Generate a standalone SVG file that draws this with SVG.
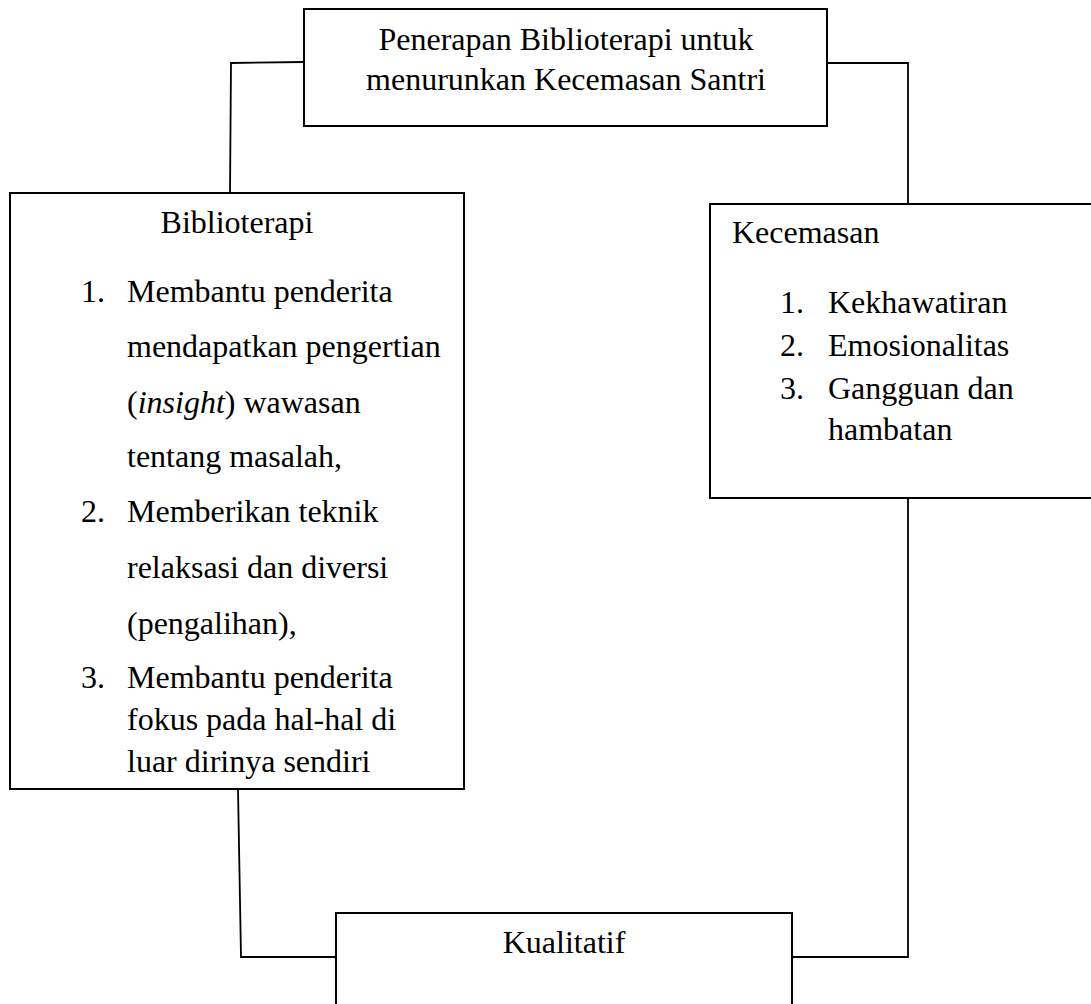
<svg xmlns="http://www.w3.org/2000/svg" width="1091" height="1004" viewBox="0 0 1091 1004">
<style>
.box{fill:#fff;stroke:#000;stroke-width:2}
.conn{fill:none;stroke:#000;stroke-width:1.8}
text{font-family:"Liberation Serif","Times New Roman",serif;font-size:32px;fill:#000}
.c{text-anchor:middle}
</style>
<rect width="1091" height="1004" fill="#fff"/>
<g id="connectors">
<polyline class="conn" points="304,62 231,63 230,193"/>
<polyline class="conn" points="827,63 908,63 908,204"/>
<polyline class="conn" points="238,789 241,957 336,957"/>
<polyline class="conn" points="792,957 908,957 908,498"/>
</g>
<g id="node-top">
<rect class="box" x="304" y="9" width="523" height="117"/>
<text class="c" x="566" y="50">Penerapan Biblioterapi untuk</text>
<text class="c" x="566" y="90">menurunkan Kecemasan Santri</text>
</g>
<g id="node-biblioterapi">
<rect class="box" x="10" y="193" width="454" height="596"/>
<text class="c" x="237" y="233">Biblioterapi</text>
<text x="81" y="302">1.</text>
<text x="127" y="302">Membantu penderita</text>
<text x="127" y="357">mendapatkan pengertian</text>
<text x="127" y="413">(<tspan font-style="italic">insight</tspan>) wawasan</text>
<text x="127" y="467">tentang masalah,</text>
<text x="81" y="522">2.</text>
<text x="127" y="522">Memberikan teknik</text>
<text x="127" y="578">relaksasi dan diversi</text>
<text x="127" y="634">(pengalihan),</text>
<text x="81" y="688">3.</text>
<text x="127" y="688">Membantu penderita</text>
<text x="127" y="730">fokus pada hal-hal di</text>
<text x="127" y="772">luar dirinya sendiri</text>
</g>
<g id="node-kecemasan">
<rect class="box" x="710" y="204" width="400" height="294"/>
<text x="732" y="243">Kecemasan</text>
<text x="780" y="313">1.</text>
<text x="828" y="313">Kekhawatiran</text>
<text x="780" y="356">2.</text>
<text x="828" y="356">Emosionalitas</text>
<text x="780" y="399">3.</text>
<text x="828" y="399">Gangguan dan</text>
<text x="828" y="440">hambatan</text>
</g>
<g id="node-kualitatif">
<rect class="box" x="336" y="913" width="456" height="120"/>
<text class="c" x="564" y="953">Kualitatif</text>
</g>
</svg>
